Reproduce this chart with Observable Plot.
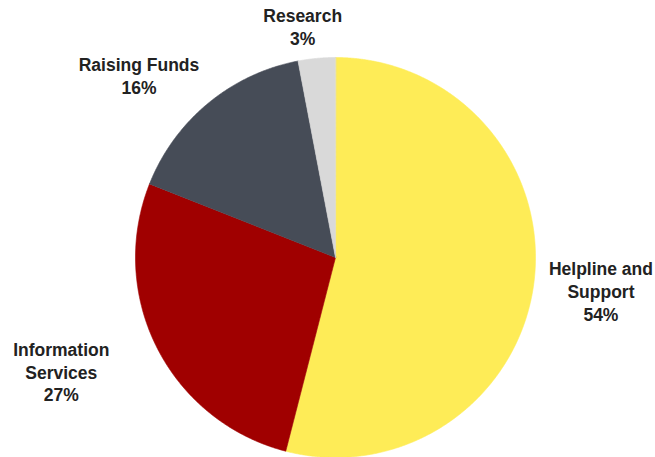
<!DOCTYPE html>
<html>
<head>
<meta charset="utf-8">
<script src="https://cdn.jsdelivr.net/npm/d3@7"></script>
<script src="https://cdn.jsdelivr.net/npm/@observablehq/plot@0.6"></script>
<style>
  html, body { margin: 0; padding: 0; background: #ffffff; }
  #chart { width: 655px; height: 457px; }
</style>
</head>
<body>
<div id="chart"></div>
<script>
// ---- data ----
const categories = ["Helpline and Support", "Information Services", "Raising Funds", "Research"];
const labelNames = ["Helpline and\nSupport", "Information\nServices", "Raising Funds", "Research"];
const shares = [54, 27, 16, 3];

// ---- style / layout ----
const colors = ["#FEEC57", "#A00000", "#464C57", "#D9D9D9"];
const labelNudge = [[67, 8], [-96, 23], [-69, -28], [-14, -32]]; // px offsets from slice edge midpoint

const rows = categories.map((c, i) => ({category: c, label: labelNames[i], share: shares[i]}));
const arcs = d3.pie().sort(null).value(d => d.share)(rows);

// polygon outline of each slice, in unit-circle data coordinates
const outline = [];
for (const a of arcs) {
  outline.push({category: a.data.category, x: 0, y: 0});
  const n = Math.max(2, Math.ceil((a.endAngle - a.startAngle) / 0.005));
  for (let k = 0; k <= n; k++) {
    const t = a.startAngle + (a.endAngle - a.startAngle) * k / n;
    outline.push({category: a.data.category, x: Math.sin(t), y: Math.cos(t)});
  }
}

const labelMarks = arcs.map((a, i) => {
  const mid = (a.startAngle + a.endAngle) / 2;
  return Plot.text([{x: Math.sin(mid), y: Math.cos(mid), text: `${a.data.label}\n${a.data.share}%`}], {
    x: "x", y: "y", text: "text",
    dx: labelNudge[i][0], dy: labelNudge[i][1],
    textAnchor: "middle", lineAnchor: "middle", lineHeight: 1.3,
    fontSize: 17.5, fontWeight: "bold", fill: "#222222"
  });
});

const chart = Plot.plot({
  width: 655,
  height: 457,
  margin: 0,
  style: {fontFamily: "'Liberation Sans', Arial, sans-serif", background: "#ffffff"},
  x: {domain: [-1, 1], range: [135, 535], axis: null},
  y: {domain: [-1, 1], range: [457, 57], axis: null},
  color: {domain: categories, range: colors},
  marks: [
    Plot.line(outline, {x: "x", y: "y", z: "category", fill: "category", stroke: "category", strokeWidth: 0.6, curve: "linear-closed"}),
    ...labelMarks
  ]
});
document.getElementById("chart").appendChild(chart);
</script>
</body>
</html>
